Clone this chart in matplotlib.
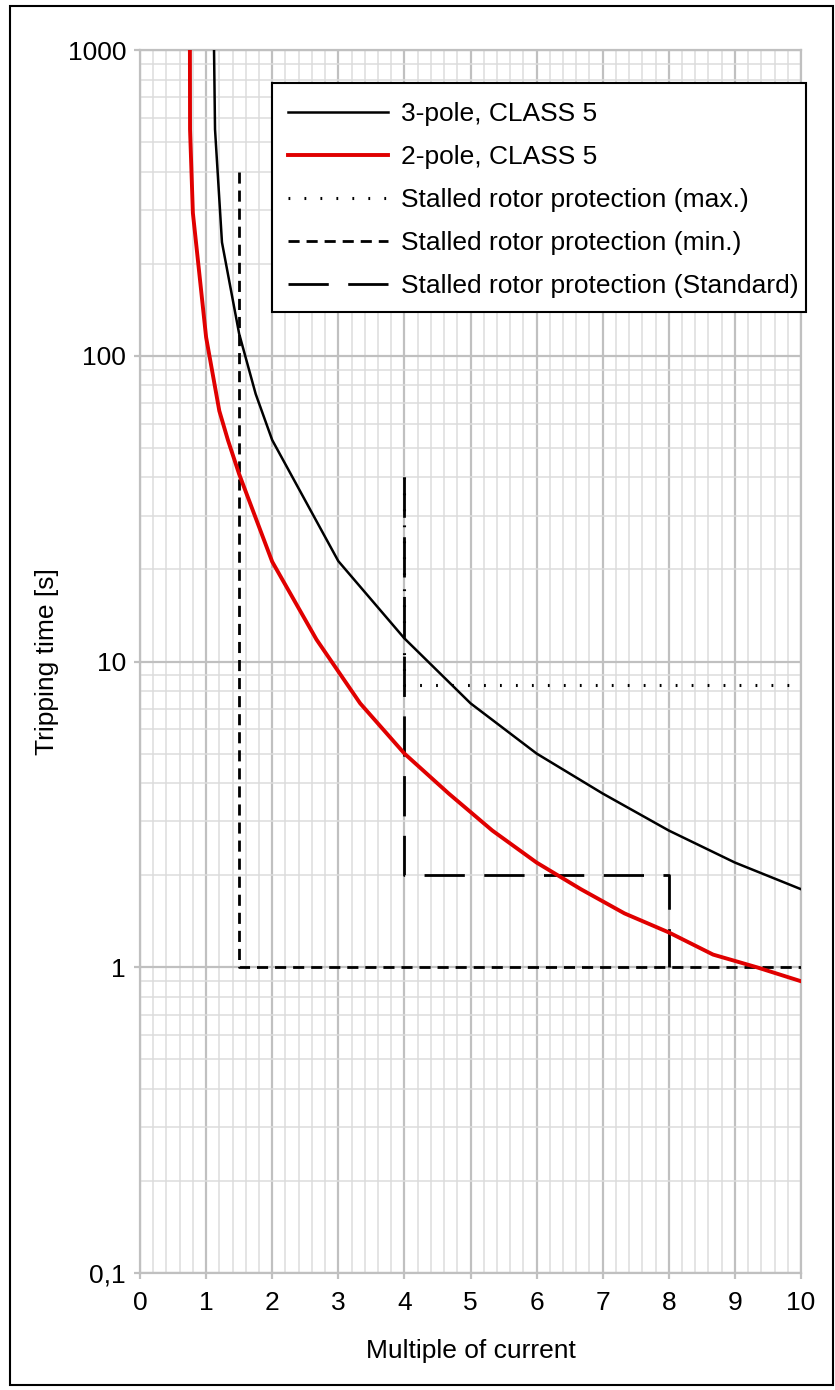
import matplotlib.pyplot as plt
from matplotlib.patches import Rectangle
from matplotlib.ticker import FixedLocator, NullFormatter, MultipleLocator

plt.rcParams['font.family'] = ['Liberation Sans', 'DejaVu Sans']
plt.rcParams['lines.scale_dashes'] = False

# 3-pole, CLASS 5 (black)
x3 = [1.12, 1.135, 1.24, 1.5, 1.75, 2, 3, 4, 5, 6, 7, 8, 9, 10]
t3 = [1000, 550, 235, 118, 75, 53, 21.3, 11.9, 7.3, 5.0, 3.7, 2.8, 2.2, 1.8]

# 2-pole, CLASS 5 (red)
x2 = [0.755, 0.757, 0.80, 1.0, 1.2, 1.33, 1.5, 2, 2.67, 3.33, 4, 4.67,
      5.33, 6, 6.67, 7.33, 8, 8.67, 9.33, 10]
t2 = [1000, 550, 293, 115, 66, 53, 41, 21.2, 11.8, 7.3, 5.0, 3.7,
      2.8, 2.2, 1.8, 1.5, 1.3, 1.1, 1.0, 0.9]

# stalled rotor protection limits
x_max = [4, 4, 10]
t_max = [40, 8.4, 8.4]
x_min = [1.5, 1.5, 10]
t_min = [400, 1, 1]
x_std = [4, 4, 8, 8]
t_std = [40, 2, 2, 1]

labels = ["3-pole, CLASS 5", "2-pole, CLASS 5",
          "Stalled rotor protection (max.)",
          "Stalled rotor protection (min.)",
          "Stalled rotor protection (Standard)"]

fig = plt.figure(figsize=(8.35, 13.9), dpi=100)
ax = fig.add_axes([140 / 835, 1 - 1273 / 1390, 661 / 835, 1223 / 1390])

fs = 19
ax.plot(x3, t3, color='black', lw=1.8, label=labels[0], zorder=5)
ax.plot(x2, t2, color='#e00000', lw=2.8, label=labels[1], zorder=5)
ax.plot(x_max, t_max, color='black', lw=2.2, ls=(0, (1.3, 10.2)), label=labels[2], zorder=4)
ax.plot(x_min, t_min, color='black', lw=2.0, ls=(0, (8, 5)), label=labels[3], zorder=4)
ax.plot(x_std, t_std, color='black', lw=2.0, ls=(0, (29, 14)), label=labels[4], zorder=4)

ax.set_yscale('log')
ax.set_xlim(0, 10)
ax.set_ylim(0.1, 1000)

ax.xaxis.set_major_locator(MultipleLocator(1))
ax.xaxis.set_minor_locator(MultipleLocator(0.2))
ax.yaxis.set_major_locator(FixedLocator([0.1, 1, 10, 100, 1000]))
ax.set_yticklabels(["0,1", "1", "10", "100", "1000"])
minors = [m * 10.0 ** e for e in range(-1, 3) for m in range(2, 10)]
ax.yaxis.set_minor_locator(FixedLocator(minors))
ax.yaxis.set_minor_formatter(NullFormatter())

ax.grid(which='major', color='#c0c0c0', lw=1.6)
ax.grid(which='minor', color='#dcdcdc', lw=1.1)
ax.set_axisbelow(True)
for s in ax.spines.values():
    s.set_color('#c0c0c0')
    s.set_linewidth(1.6)
ax.tick_params(which='major', length=4, width=1.6, color='#c0c0c0',
               labelsize=fs)
ax.tick_params(axis='x', which='major', pad=9)
ax.tick_params(axis='y', which='major', pad=6)
ax.tick_params(which='minor', length=0)

ax.set_xlabel("Multiple of current", fontsize=fs, labelpad=17)
ax.set_ylabel("Tripping time [s]", fontsize=fs, labelpad=6)

# legend with its own box (text nearly touches the right edge in the original)
leg = ax.legend(loc='upper left', bbox_to_anchor=(132 / 661, 1 - 36 / 1223),
                borderaxespad=0, fontsize=fs, frameon=False,
                handlelength=3.8, handletextpad=0.5,
                labelspacing=0.72, borderpad=0.6)
leg.set_zorder(10)
ax.add_patch(Rectangle((132 / 661, 1 - 262 / 1223), 534 / 661, 229 / 1223,
                       transform=ax.transAxes, facecolor='white',
                       edgecolor='black', lw=1.5, zorder=9, clip_on=False))

fig.patches.append(Rectangle((10 / 835, 5 / 1390), 823 / 835, 1379 / 1390,
                             transform=fig.transFigure, fill=False,
                             edgecolor='black', lw=1.5))

fig.savefig("out.png", dpi=100)
